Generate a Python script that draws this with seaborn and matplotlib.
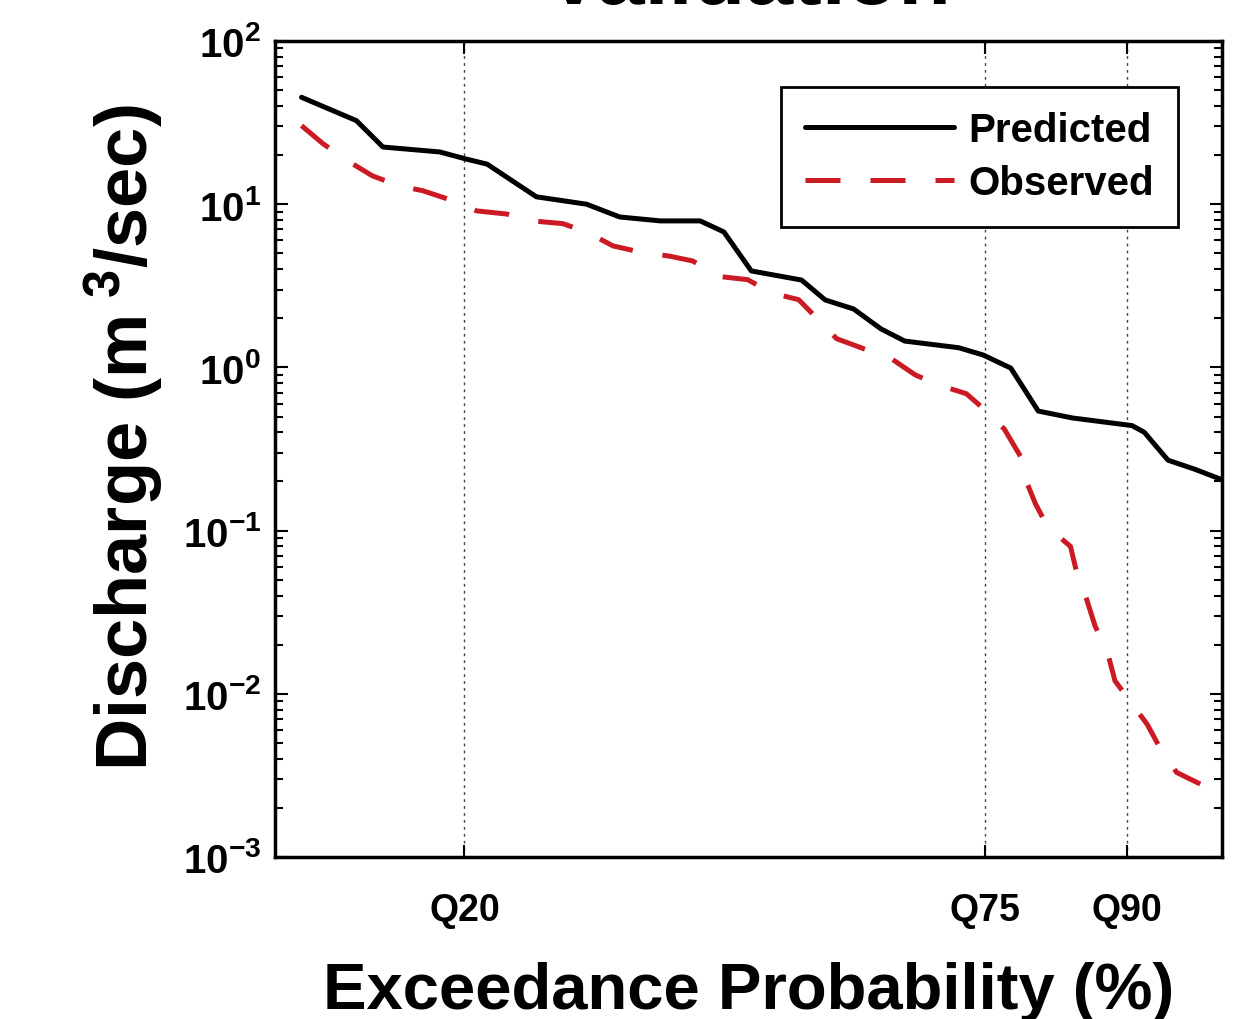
import matplotlib
matplotlib.use("Agg")
import matplotlib.pyplot as plt
import matplotlib.ticker as mticker
import numpy as np
import pandas as pd
import seaborn as sns

# ---- data ----
pred_x = [2.8, 8.6, 11.4, 17.4, 20.2, 22.4, 27.6, 32.9, 36.4, 40.7, 44.9, 47.4,
          50.3, 55.6, 58.1, 61.1, 64.0, 66.5, 72.2, 74.8, 77.7, 80.6, 84.2,
          90.5, 91.8, 94.3, 97.1, 100.0]
pred_y = [45.2, 32.5, 22.4, 20.9, 18.9, 17.6, 11.1, 10.0, 8.35, 7.9, 7.9, 6.76,
          3.90, 3.43, 2.59, 2.28, 1.72, 1.45, 1.32, 1.19, 0.99, 0.54, 0.49,
          0.44, 0.40, 0.27, 0.238, 0.205]

obs_x = [2.8, 5.1, 7.9, 10.3, 13.2, 15.6, 18.8, 21.3, 24.5, 27.2, 30.4, 32.9,
         35.7, 38.5, 41.7, 44.1, 47.0, 49.9, 52.5, 55.3, 57.4, 59.3, 62.5,
         65.0, 67.6, 70.1, 73.0, 74.8, 77.0, 78.8, 79.5, 80.3, 81.6, 84.0,
         84.7, 85.7, 86.6, 87.9, 88.7, 90.3, 92.1, 93.5, 95.2, 97.7]
obs_y = [30.3, 23.4, 18.1, 14.9, 12.9, 12.1, 10.5, 9.1, 8.7, 7.9, 7.6, 6.76,
         5.55, 5.1, 4.8, 4.49, 3.6, 3.45, 2.85, 2.6, 1.95, 1.5, 1.28,
         1.14, 0.90, 0.78, 0.69, 0.56, 0.42, 0.28, 0.19, 0.146, 0.105, 0.080,
         0.054, 0.038, 0.026, 0.018, 0.012, 0.0090, 0.0065, 0.0046, 0.0033, 0.0028]

xtick_pos = [20, 75, 90]
xtick_labels = ["Q20", "Q75", "Q90"]
ytick_exps = [-3, -2, -1, 0, 1, 2]
series_names = ["Predicted", "Observed"]
title_text = "Validation"
xlabel_text = "Exceedance Probability (%)"
ylabel_text = "Discharge (m$^{\\ 3}$/sec)"

# ---- style ----
sns.set_theme(style="ticks")
plt.rcParams["font.family"] = ["Liberation Sans", "DejaVu Sans"]
plt.rcParams["mathtext.fontset"] = "custom"
plt.rcParams["mathtext.rm"] = "Liberation Sans:bold"
plt.rcParams["mathtext.it"] = "Liberation Sans:bold"
plt.rcParams["mathtext.bf"] = "Liberation Sans:bold"
plt.rcParams["mathtext.default"] = "rm"
for k in ["text.color", "axes.labelcolor", "xtick.color", "ytick.color", "axes.edgecolor"]:
    plt.rcParams[k] = "black"

fig = plt.figure(figsize=(12.35, 10.2), dpi=100)
ax = fig.add_axes([275 / 1235, 1 - 858 / 1020, (1222 - 275) / 1235, (858 - 42) / 1020])

red = "#cc1a24"
sns.lineplot(x=pred_x, y=pred_y, ax=ax, color="black", lw=3.6,
             label=series_names[0], sort=False, estimator=None)
sns.lineplot(x=obs_x, y=obs_y, ax=ax, color=red, lw=3.6,
             label=series_names[1], sort=False, estimator=None)
ax.lines[1].set_dashes((7, 6))

ax.set_yscale("log")
ax.set_xlim(0, 100)
ax.set_ylim(1e-3, 1e2)

ax.set_xticks(xtick_pos)
ax.set_xticklabels(xtick_labels, fontsize=27, fontweight="bold")
ax.xaxis.set_minor_locator(mticker.NullLocator())

ax.yaxis.set_major_locator(mticker.FixedLocator([10.0 ** e for e in ytick_exps]))
ax.yaxis.set_major_formatter(mticker.FuncFormatter(
    lambda v, p: "$10^{%d}$" % int(round(np.log10(v)))))
ax.yaxis.set_minor_locator(mticker.LogLocator(base=10, subs=np.arange(2, 10), numticks=20))
ax.yaxis.set_minor_formatter(mticker.NullFormatter())
for lab in ax.get_yticklabels():
    lab.set_fontsize(29)

ax.tick_params(axis="both", which="both", direction="in", top=True, right=True,
               color="black", width=1.5)
ax.tick_params(axis="both", which="major", length=9)
ax.tick_params(axis="x", which="major", pad=25)
ax.tick_params(axis="y", which="major", pad=10)
ax.tick_params(axis="y", which="minor", length=6)

for s in ax.spines.values():
    s.set_linewidth(2.5)
    s.set_color("black")

# vertical dotted grid at the Q ticks
ax.xaxis.grid(True, linestyle=(0, (2, 3)), color="#444444", linewidth=1.0)
ax.yaxis.grid(False)

ax.set_xlabel(xlabel_text, fontsize=47, fontweight="bold")
ax.xaxis.set_label_coords(0.5, -0.128)
ax.set_ylabel(ylabel_text, fontsize=52, fontweight="bold")
ax.yaxis.set_label_coords(-0.116, 0.515)

leg = ax.legend(loc="upper right", bbox_to_anchor=((1178 - 275) / 947, (858 - 88) / 816),
                borderaxespad=0, prop={"weight": "bold", "size": 29}, frameon=True,
                fancybox=False, edgecolor="black", handlelength=3.7, handletextpad=0.35,
                borderpad=0.6, labelspacing=0.38)
leg.get_frame().set_linewidth(2.0)
leg.get_frame().set_alpha(1)

fig.text(748 / 1235, 1 - 4 / 1020, title_text, ha="center", va="baseline",
         fontsize=62, fontweight="bold")

fig.savefig("out.png", dpi=100, facecolor="white")
